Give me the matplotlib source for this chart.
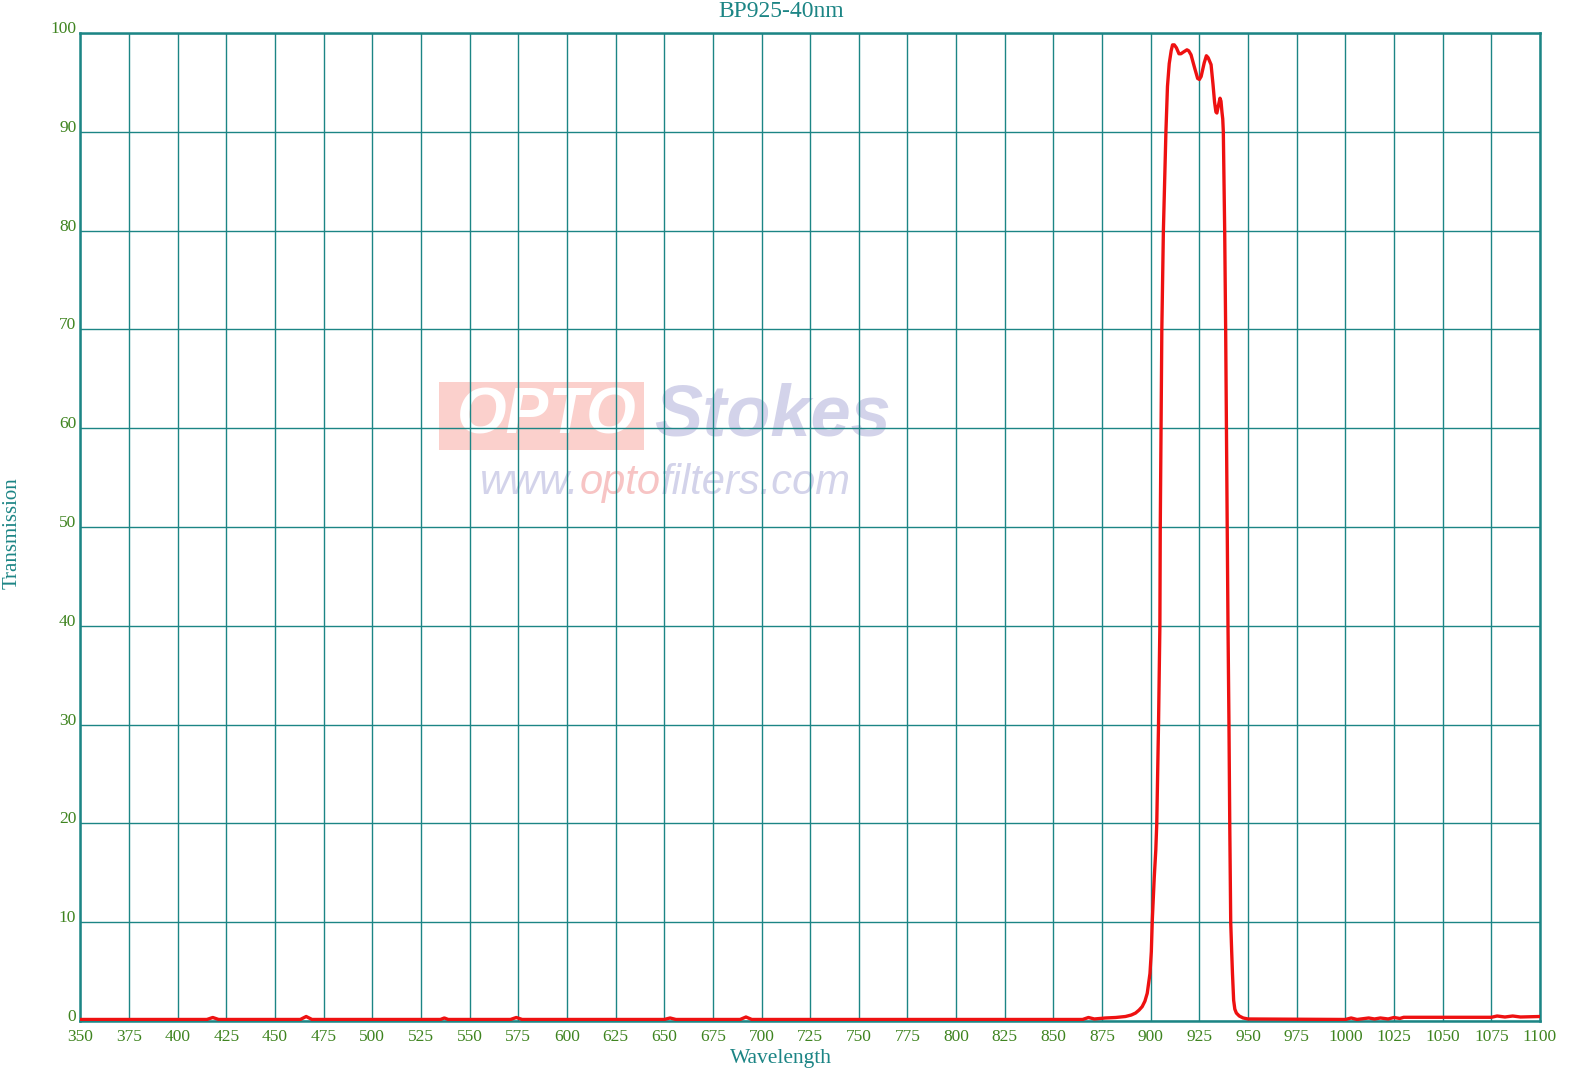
import numpy as np
import matplotlib
matplotlib.use("Agg")
import matplotlib.pyplot as plt
from matplotlib.patches import Rectangle

# transmission curve (wavelength nm, transmission %)
wavelength = [350, 415, 418, 421, 463, 466, 469, 535, 537, 539, 571, 574, 577,
              650, 653, 656, 689, 692, 695, 865, 868, 871, 876.7, 882, 887,
              890, 892.2, 894, 895.6, 897, 898.2, 899.6, 900.3, 900.8, 901.8,
              902.6, 903.1, 904, 904.7, 904.9, 905.3, 905.7, 906.5, 907.8,
              908.6, 909.5, 910.5, 911.2, 912.1, 913.2, 914.5, 915.5, 917,
              918.6, 919.5, 920.7, 922.5, 924.1, 925, 925.9, 927.5, 928.6,
              929.5, 931, 932, 932.8, 933.5, 934, 934.6, 935.6, 936.1, 936.6,
              937.0, 937.3, 938, 938.5, 938.9, 939.3, 939.7, 940.2, 940.6,
              941.1, 941.6, 942, 942.6, 943.2, 944, 945.5, 947.5, 950, 1000,
              1003, 1006, 1012, 1015, 1018, 1022, 1025, 1028, 1030, 1060,
              1075, 1078, 1082, 1086, 1090, 1100]
transmission = [0.15, 0.15, 0.35, 0.15, 0.15, 0.45, 0.15, 0.15, 0.3, 0.15, 0.15,
                0.35, 0.15, 0.15, 0.3, 0.15, 0.15, 0.4, 0.15, 0.15, 0.35, 0.2,
                0.3, 0.35, 0.45, 0.6, 0.8, 1.1, 1.45, 2.0, 2.8, 4.8, 7.0, 10.2,
                14.5, 17.3, 20, 30, 40, 50, 60, 70, 80, 90, 94.6, 96.9, 98.2,
                98.8, 98.8, 98.5, 97.9, 97.9, 98.1, 98.3, 98.2, 97.8, 96.5,
                95.4, 95.3, 95.6, 97.0, 97.7, 97.5, 96.8, 94.8, 93.0, 92.0,
                91.9, 92.5, 93.4, 93.1, 92.0, 91.3, 90, 80, 70, 60, 50, 40, 30,
                20, 10, 7, 4.8, 2.1, 1.2, 0.8, 0.5, 0.3, 0.2, 0.15, 0.3, 0.15,
                0.3, 0.2, 0.3, 0.2, 0.35, 0.25, 0.37, 0.37, 0.37, 0.5, 0.4,
                0.5, 0.4, 0.45]

x_ticks = list(range(350, 1101, 25))
y_ticks = list(range(0, 101, 10))

teal = "#1c8585"
tick_green = "#3f8420"

plt.rcParams['font.family'] = ['Liberation Serif', 'DejaVu Serif']

fig = plt.figure(figsize=(15.77, 10.86), dpi=100)
ax = fig.add_axes([0.051, 0.0599, 0.9255, 0.9097])

ax.plot(wavelength, transmission, color="#ee1111", lw=2.4, zorder=3,
        solid_joinstyle='round')

ax.set_xlim(350, 1100)
ax.set_ylim(0, 100)
ax.set_xticks(x_ticks)
ax.set_yticks(y_ticks)
ax.set_axisbelow(True)
ax.grid(True, color=teal, lw=1.0)
for s in ax.spines.values():
    s.set_color(teal)
    s.set_linewidth(1.8)
ax.tick_params(length=0, labelsize=12.5, labelcolor=tick_green, pad=6)
ax.tick_params(axis='y', pad=3)
for lab in ax.get_yticklabels():
    lab.set_va('baseline')

fig.text(0.4955, 0.989, "BP925-40nm", color=teal, fontsize=17,
         ha='center', va='center')
fig.text(0.4955, 0.0255, "Wavelength", color=teal, fontsize=15.5,
         ha='center', va='center')
fig.text(0.008, 0.509, "Transmission", color=teal, fontsize=15,
         ha='center', va='center', rotation=90)

# watermark
ax.add_patch(Rectangle((0.2457, 0.578), 0.1405, 0.069, transform=ax.transAxes,
                       color="#fbd0cc", zorder=0.1, lw=0))
wm = dict(family='Liberation Sans', fontweight='bold', style='italic',
          zorder=0.2, transform=ax.transAxes, va='center')
ax.text(0.258, 0.612, "OPTO", color="white", fontsize=46, ha='left', **wm)
ax.text(0.393, 0.612, "Stokes", color="#d3d3ea", fontsize=52, ha='left', **wm)
t1 = ax.text(0.274, 0.5445, "www.", color="#d3d3ea", fontsize=30,
             family='Liberation Sans', style='italic', zorder=0.2,
             transform=ax.transAxes, va='center', ha='left')
t2 = ax.annotate("opto", xy=(1, 0), xycoords=t1, color="#f7c4c4", fontsize=30,
                 family='Liberation Sans', style='italic', zorder=0.2,
                 va='bottom', ha='left')
ax.annotate("filters.com", xy=(1, 0), xycoords=t2, color="#d3d3ea",
            fontsize=30, family='Liberation Sans', style='italic', zorder=0.2,
            va='bottom', ha='left')

fig.savefig("out.png", dpi=100)
